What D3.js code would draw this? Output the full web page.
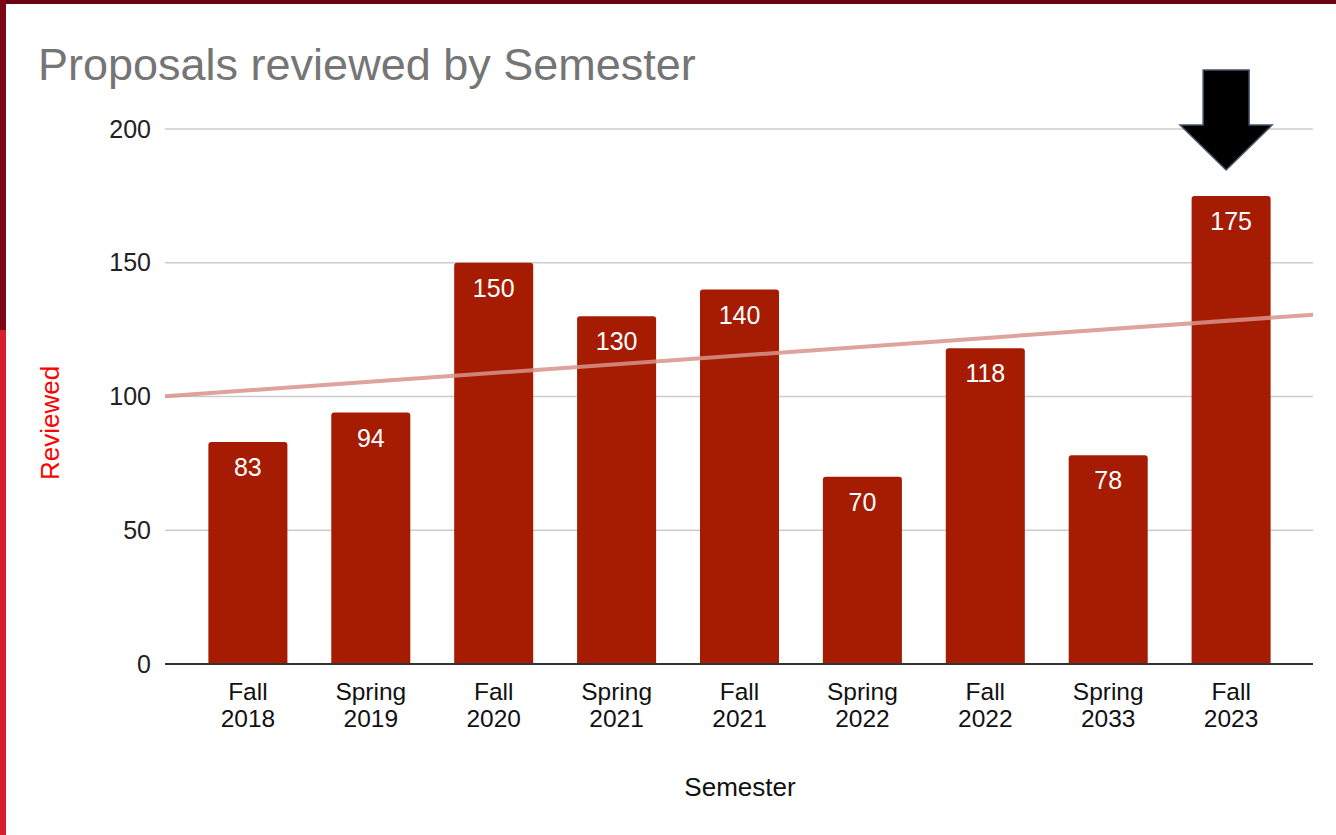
<!DOCTYPE html>
<html>
<head>
<meta charset="utf-8">
<script src="https://cdn.jsdelivr.net/npm/d3@7"></script>
<style>
  body { margin: 0; background: #fff; }
  svg { display: block; font-family: "Liberation Sans", Arial, sans-serif; }
</style>
</head>
<body>
<svg id="chart" width="1336" height="835"></svg>
<script>
var semesters = ["Fall 2018", "Spring 2019", "Fall 2020", "Spring 2021", "Fall 2021", "Spring 2022", "Fall 2022", "Spring 2033", "Fall 2023"];
var reviewed = [83, 94, 150, 130, 140, 70, 118, 78, 175];
var yTicks = [0, 50, 100, 150, 200];

var svg = d3.select("#chart");

// slide frame bits
svg.append("rect").attr("x", 0).attr("y", 0).attr("width", 1336).attr("height", 4).attr("fill", "#6d0212");
svg.append("rect").attr("x", 0).attr("y", 0).attr("width", 6).attr("height", 330).attr("fill", "#7a0615");
svg.append("rect").attr("x", 0).attr("y", 330).attr("width", 6).attr("height", 505).attr("fill", "#d41f2c");

var plotLeft = 165, plotRight = 1313, plotTop = 129, plotBottom = 664;

var x = d3.scaleBand().domain(semesters).range([186.5, 1292.5]).paddingInner(0.357).paddingOuter(0.178);
var y = d3.scaleLinear().domain([0, 200]).range([plotBottom, plotTop]);

// gridlines
svg.append("g").selectAll("line").data(yTicks.filter(function (d) { return d > 0; }))
  .enter().append("line")
  .attr("x1", plotLeft).attr("x2", plotRight)
  .attr("y1", function (d) { return y(d); }).attr("y2", function (d) { return y(d); })
  .attr("stroke", "#cccccc").attr("stroke-width", 1.5);

// y axis labels
var yAxis = svg.append("g").attr("transform", "translate(" + (plotLeft - 14) + ",0)")
  .call(d3.axisLeft(y).tickValues(yTicks).tickSize(0).tickPadding(0));
yAxis.select(".domain").remove();
yAxis.selectAll("text").attr("font-size", 25).attr("fill", "#222").attr("font-family", "Liberation Sans, Arial, sans-serif");

// bars with rounded tops
var r = 3;
svg.append("g").selectAll("path").data(reviewed).enter().append("path")
  .attr("fill", "#a51c02")
  .attr("d", function (d, i) {
    var x0 = x(semesters[i]), w = x.bandwidth(), y0 = y(d), y1 = y(0);
    return "M" + x0 + "," + y1 + "V" + (y0 + r) + "Q" + x0 + "," + y0 + " " + (x0 + r) + "," + y0 +
      "H" + (x0 + w - r) + "Q" + (x0 + w) + "," + y0 + " " + (x0 + w) + "," + (y0 + r) + "V" + y1 + "Z";
  });

// linear trendline (least squares on category index)
var n = reviewed.length;
var mx = d3.mean(d3.range(n)), my = d3.mean(reviewed);
var slope = d3.sum(reviewed, function (v, i) { return (i - mx) * (v - my); }) / d3.sum(d3.range(n), function (i) { return (i - mx) * (i - mx); });
var step = x.step();
var c0 = x(semesters[0]) + x.bandwidth() / 2;
function trendAt(px) { var idx = (px - c0) / step; return my + slope * (idx - mx); }
svg.append("line")
  .attr("x1", plotLeft).attr("y1", y(trendAt(plotLeft)))
  .attr("x2", plotRight).attr("y2", y(trendAt(plotRight)))
  .attr("stroke", "#d9938a").attr("stroke-width", 4).attr("opacity", 0.85);

// value labels
svg.append("g").selectAll("text").data(reviewed).enter().append("text")
  .attr("x", function (d, i) { return x(semesters[i]) + x.bandwidth() / 2; })
  .attr("y", function (d) { return y(d) + 34; })
  .attr("text-anchor", "middle").attr("font-size", 25).attr("fill", "#fff")
  .text(function (d) { return d; });

// baseline
svg.append("line").attr("x1", plotLeft).attr("x2", plotRight).attr("y1", y(0)).attr("y2", y(0))
  .attr("stroke", "#333").attr("stroke-width", 2);

// x tick labels (two lines)
var xl = svg.append("g").selectAll("text").data(semesters).enter().append("text")
  .attr("text-anchor", "middle").attr("font-size", 24.5).attr("fill", "#111")
  .attr("transform", function (d) { return "translate(" + (x(d) + x.bandwidth() / 2) + ",700)"; });
xl.append("tspan").attr("x", 0).attr("dy", 0).text(function (d) { return d.split(" ")[0]; });
xl.append("tspan").attr("x", 0).attr("dy", 27).text(function (d) { return d.split(" ")[1]; });

// titles
svg.append("text").attr("x", 38).attr("y", 80).attr("font-size", 45).attr("fill", "#757575")
  .text("Proposals reviewed by Semester");
svg.append("text").attr("x", 740).attr("y", 796).attr("text-anchor", "middle").attr("font-size", 26).attr("fill", "#111")
  .text("Semester");
svg.append("text").attr("transform", "translate(59,423) rotate(-90)").attr("text-anchor", "middle")
  .attr("font-size", 26).attr("fill", "#ff0000").text("Reviewed");

// arrow pointing at last bar
var ax = x(semesters[n - 1]) + x.bandwidth() / 2 - 5;
svg.append("path")
  .attr("d", "M" + (ax - 23) + ",70H" + (ax + 23) + "V125H" + (ax + 46) + "L" + ax + ",170L" + (ax - 46) + ",125H" + (ax - 23) + "Z")
  .attr("fill", "#000").attr("stroke", "#44546a").attr("stroke-width", 1.5);
</script>
</body>
</html>
